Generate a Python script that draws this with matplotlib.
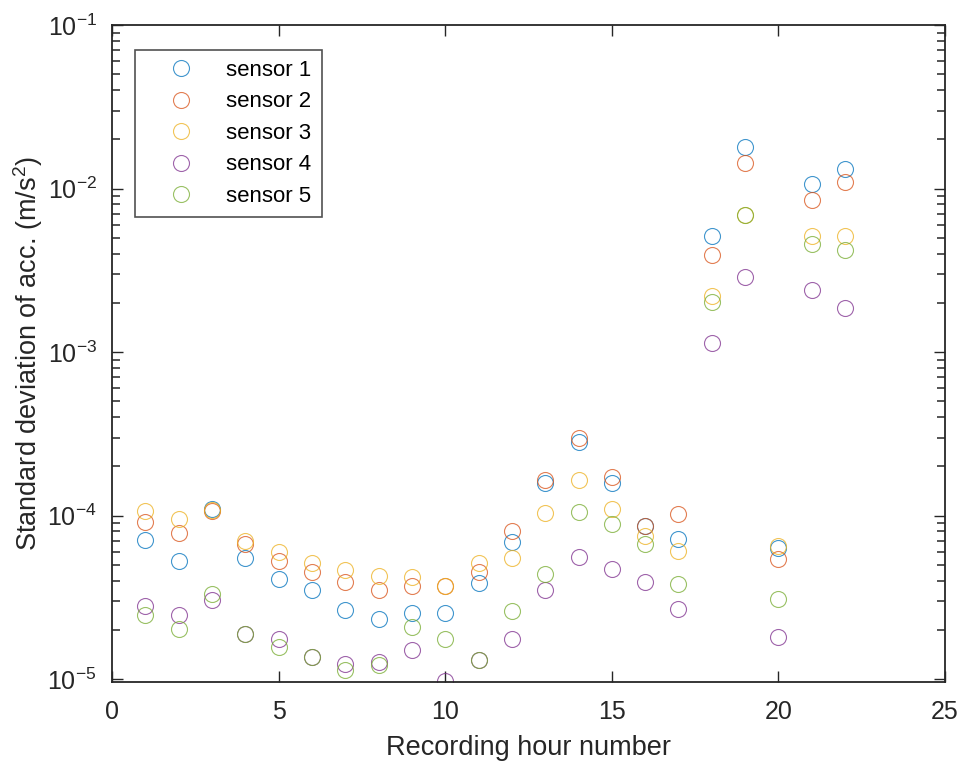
import matplotlib
matplotlib.use("Agg")
import matplotlib.pyplot as plt
from matplotlib.ticker import FixedLocator, NullFormatter

plt.rcParams['font.family'] = ['Liberation Sans', 'DejaVu Sans']
plt.rcParams['mathtext.fontset'] = 'custom'
plt.rcParams['mathtext.rm'] = 'Liberation Sans'
plt.rcParams['mathtext.it'] = 'Liberation Sans:italic'

hours = list(range(1, 23))
sensor_names = ["sensor 1", "sensor 2", "sensor 3", "sensor 4", "sensor 5"]

sensor1 = [7.1e-5, 5.3e-5, 1.1e-4, 5.5e-5, 4.1e-5, 3.5e-5, 2.64e-5, 2.32e-5, 2.55e-5, 2.55e-5, 3.85e-5,
           6.9e-5, 1.59e-4, 2.81e-4, 1.59e-4, 8.6e-5, 7.2e-5, 5.1e-3, 1.79e-2, 6.3e-5, 1.06e-2, 1.32e-2]
sensor2 = [9.1e-5, 7.8e-5, 1.07e-4, 6.7e-5, 5.3e-5, 4.5e-5, 3.9e-5, 3.5e-5, 3.7e-5, 3.7e-5, 4.5e-5,
           8.0e-5, 1.66e-4, 2.99e-4, 1.71e-4, 8.6e-5, 1.02e-4, 3.9e-3, 1.44e-2, 5.4e-5, 8.5e-3, 1.09e-2]
sensor3 = [1.06e-4, 9.5e-5, 1.08e-4, 7.0e-5, 6.0e-5, 5.1e-5, 4.65e-5, 4.3e-5, 4.2e-5, 3.7e-5, 5.15e-5,
           5.5e-5, 1.03e-4, 1.64e-4, 1.09e-4, 7.5e-5, 6.1e-5, 2.2e-3, 6.9e-3, 6.5e-5, 5.1e-3, 5.1e-3]
sensor4 = [2.8e-5, 2.47e-5, 3.05e-5, 1.9e-5, 1.77e-5, 1.36e-5, 1.24e-5, 1.28e-5, 1.51e-5, 9.8e-6, 1.31e-5,
           1.77e-5, 3.5e-5, 5.6e-5, 4.7e-5, 3.95e-5, 2.67e-5, 1.14e-3, 2.86e-3, 1.82e-5, 2.41e-3, 1.86e-3]
sensor5 = [2.46e-5, 2.02e-5, 3.3e-5, 1.9e-5, 1.58e-5, 1.36e-5, 1.14e-5, 1.22e-5, 2.07e-5, 1.75e-5, 1.31e-5,
           2.61e-5, 4.38e-5, 1.05e-4, 8.9e-5, 6.7e-5, 3.8e-5, 2.01e-3, 6.86e-3, 3.1e-5, 4.6e-3, 4.2e-3]

x_ticks = [0, 5, 10, 15, 20, 25]
y_major = [1e-5, 1e-4, 1e-3, 1e-2, 1e-1]
y_minor = [m * d for d in [1e-6, 1e-5, 1e-4, 1e-3, 1e-2] for m in range(2, 10)]

colors = ["#0072BD", "#D95319", "#EDB120", "#7E2F8E", "#77AC30"]
series = [sensor1, sensor2, sensor3, sensor4, sensor5]

fig = plt.figure(figsize=(9.6, 7.61), dpi=100)
ax = fig.add_axes([0.1167, 0.1038, 0.8677, 0.8633])

for name, vals, c in zip(sensor_names, series, colors):
    ax.plot(hours, vals, linestyle='none', marker='o', markersize=11.5,
            markerfacecolor='none', markeredgecolor=c, markeredgewidth=0.8,
            alpha=0.75, label=name)

ax.set_yscale('log')
ax.set_xlim(0, 25)
ax.set_ylim(9.6e-6, 0.1)
ax.set_xticks(x_ticks)
ax.yaxis.set_major_locator(FixedLocator(y_major))
ax.yaxis.set_minor_locator(FixedLocator(y_minor))
ax.yaxis.set_minor_formatter(NullFormatter())
ax.set_ylim(9.6e-6, 0.1)

ax.tick_params(axis='both', which='both', direction='in', top=True, right=True,
               left=True, bottom=True, colors='#262626', labelcolor='#262626', labelsize=18)
ax.tick_params(axis='both', which='major', length=8, width=1.0)
ax.tick_params(axis='y', which='minor', length=6, width=1.1)
ax.tick_params(axis='x', which='major', pad=13)
ax.tick_params(axis='y', which='major', pad=11)
for s in ax.spines.values():
    s.set_color('#262626')
    s.set_linewidth(1.3)

ax.set_xlabel("Recording hour number", fontsize=19.5, color='#262626')
ax.set_ylabel("Standard deviation of acc. (m/s$^2$)", fontsize=19.5, color='#262626')
ax.xaxis.set_label_coords(0.5, -0.08)
ax.yaxis.set_label_coords(-0.08, 0.5)

leg = ax.legend(loc='upper left', bbox_to_anchor=(0.0276, 0.962), fontsize=16,
                frameon=True, fancybox=False, edgecolor='#262626', handlelength=3.27,
                handletextpad=0.39, borderpad=0.45, labelspacing=0.47, borderaxespad=0)
leg.get_frame().set_linewidth(1.2)

fig.savefig("out.png", dpi=100)
